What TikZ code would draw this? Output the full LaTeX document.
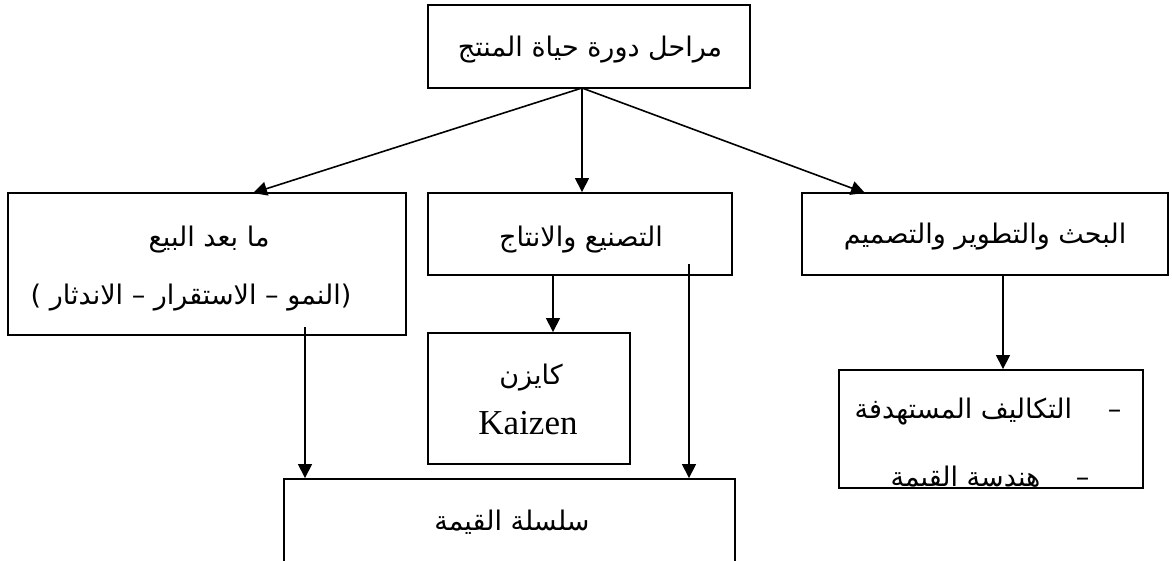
\documentclass[tikz,border=0pt]{standalone}
\usepackage{fontspec}
\usetikzlibrary{arrows.meta}
\TeXXeTstate=1
\newfontfamily\arabicfont[Script=Arabic]{DejaVu Sans}
\newfontfamily\plainfont{DejaVu Sans}
\newfontfamily\latinfont{Liberation Serif}

\tikzset{
  box/.style={draw, line width=1.9pt, inner sep=0pt},
  txt/.style={inner sep=0pt, font=\arabicfont\fontsize{27}{31}\selectfont},
  link/.style={line width=1.6pt, -{Triangle[length=14pt,width=14pt]}},
}
% parentheses set as separate boxes so that they keep their own shape
\newcommand{\lpar}{\hbox{\plainfont(}}
\newcommand{\rpar}{\hbox{\plainfont)}}

\begin{document}
\begin{tikzpicture}[x=1pt,y=-1pt]
\useasboundingbox (0,0) rectangle (1172,561);

% boxes
\node[box, minimum width=322pt, minimum height=83pt] (top)   at (589,46.5) {};
\node[box, minimum width=398pt, minimum height=142pt] (after) at (207,264) {};
\node[box, minimum width=304pt, minimum height=82pt] (make)  at (580,234) {};
\node[box, minimum width=366pt, minimum height=82pt] (rnd)   at (985,234) {};
\node[box, minimum width=202pt, minimum height=131pt] (kaizen) at (529,398.5) {};
\node[box, minimum width=304pt, minimum height=118pt] (cost)  at (991,429) {};
\node[box, minimum width=451pt, minimum height=86pt] (chain) at (509.5,522) {};

% labels
\node[txt] (ttop) at (590,50) {\beginR مراحل دورة حياة المنتج\endR};
\node[txt] (tafter1) at (209,240) {\beginR ما بعد البيع\endR};
\node[txt] (tafter2) at (191,298) {\beginR\rpar النمو – الاستقرار – الاندثار \lpar\endR};
\node[txt] (tmake) at (581,240) {\beginR التصنيع والانتاج\endR};
\node[txt] (trnd) at (985,237) {\beginR البحث والتطوير والتصميم\endR};
\node[txt] (tkaizen) at (531,378) {\beginR كايزن\endR};
\node[inner sep=0pt, font=\latinfont\fontsize{35}{40}\selectfont] (tkaizen2) at (528,423) {Kaizen};
\node[txt] (tchain) at (512,522) {\beginR سلسلة القيمة\endR};
\begin{scope}
  \clip (cost.south west) rectangle (cost.north east);
  \node[txt] (tcost1) at (988,412) {\beginR – \quad التكاليف المستهدفة\endR};
  \node[txt] (tcost2) at (990,478) {\beginR – \quad هندسة القيمة\endR};
\end{scope}

% connectors
\coordinate (hub) at (582,88);
\coordinate (aftertip) at (253,193);
\coordinate (rndtip) at (865,193);
\coordinate (afterfoot) at (305,327);
\coordinate (makefoot) at (689,264);
\coordinate (makekz) at (553,275);
\coordinate (rndfoot) at (1003,275);

\draw[link] (hub) -- (aftertip);
\draw[link] (hub) -- (hub |- make.north);
\draw[link] (hub) -- (rndtip);
\draw[link] (makekz) -- (makekz |- kaizen.north);
\draw[link] (afterfoot) -- (afterfoot |- chain.north);
\draw[link] (makefoot) -- (makefoot |- chain.north);
\draw[link] (rndfoot) -- (rndfoot |- cost.north);
\end{tikzpicture}
\end{document}
